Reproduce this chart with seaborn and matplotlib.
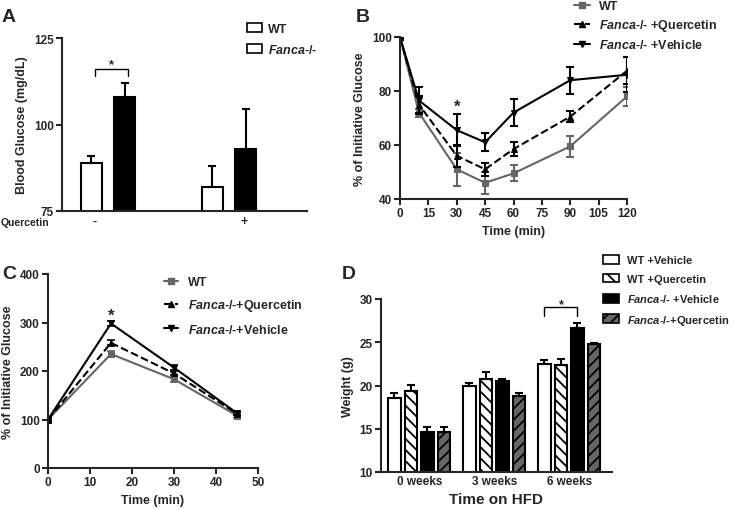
import matplotlib
matplotlib.use("Agg")
import matplotlib.pyplot as plt
from matplotlib.lines import Line2D
from matplotlib.patches import Patch
import seaborn as sns
import pandas as pd

# ---- data ----
# A: fasting blood glucose
a_quercetin = ["-", "+"]
a_genotypes = ["WT", "Fanca-/-"]
a_wt = [89, 82]
a_wt_err = [2, 6]
a_fanca = [108, 93]
a_fanca_err = [4, 11.5]

# B: insulin tolerance
b_time = [0, 10, 30, 45, 60, 90, 120]
b_wt = [100, 72, 51, 46, 49.5, 59.5, 78]
b_wt_err = [0.5, 1.5, 6, 4, 3, 4, 3.5]
b_q = [100, 75, 56, 51, 58.5, 70.5, 87.5]
b_q_err = [0.5, 3, 4, 2.5, 2.5, 2, 5]
b_v = [100, 76.5, 65.5, 61, 72, 84, 86]
b_v_err = [0.5, 5, 6, 3.3, 5, 5, 6.5]

# C: glucose tolerance
c_time = [0, 15, 30, 45]
c_wt = [100, 235, 183, 108]
c_wt_err = [3, 6, 5, 4]
c_q = [100, 258, 195, 112]
c_q_err = [3, 5, 4, 3]
c_v = [100, 298, 207, 113]
c_v_err = [3, 5, 5, 3]

# D: body weight on HFD
d_weeks = ["0 weeks", "3 weeks", "6 weeks"]
d_groups = ["WT +Vehicle", "WT +Quercetin", "Fanca-/- +Vehicle", "Fanca-/-+Quercetin"]
d_vals = {
    "WT +Vehicle": [18.6, 20.0, 22.5],
    "WT +Quercetin": [19.4, 20.7, 22.4],
    "Fanca-/- +Vehicle": [14.6, 20.5, 26.7],
    "Fanca-/-+Quercetin": [14.6, 18.8, 24.8],
}
d_errs = {
    "WT +Vehicle": [0.5, 0.3, 0.4],
    "WT +Quercetin": [0.7, 0.9, 0.7],
    "Fanca-/- +Vehicle": [0.6, 0.2, 0.5],
    "Fanca-/-+Quercetin": [0.6, 0.3, 0.15],
}

sns.set_style("ticks")
plt.rcParams["font.family"] = ["Liberation Sans", "DejaVu Sans"]
plt.rcParams["font.weight"] = "bold"
plt.rcParams["axes.labelweight"] = "bold"
plt.rcParams["mathtext.fontset"] = "custom"
plt.rcParams["mathtext.it"] = "Liberation Sans:italic"
plt.rcParams["mathtext.rm"] = "Liberation Sans:bold"
plt.rcParams["hatch.linewidth"] = 1.3
plt.rcParams["xtick.labelsize"] = 8.5
plt.rcParams["ytick.labelsize"] = 8.5
plt.rcParams["axes.labelsize"] = 9

W, H = 734, 510
fig = plt.figure(figsize=(W / 100, H / 100), dpi=100)


def px_axes(l, t, r, b):
    return fig.add_axes([l / W, 1 - b / H, (r - l) / W, (b - t) / H])


def style_ax(ax):
    for s in ["top", "right"]:
        ax.spines[s].set_visible(False)
    for s in ["left", "bottom"]:
        ax.spines[s].set_linewidth(1.5)
    ax.tick_params(width=1.5, length=4, direction="out", pad=2)


def ital(label):
    return label.replace("Fanca", r"$\mathit{Fanca}$")


GREY = "#666666"

# ---------------- A ----------------
ax = px_axes(62, 39, 307, 212)
dfa = pd.DataFrame({
    "quercetin": a_quercetin * 2,
    "genotype": ["WT"] * 2 + ["Fanca-/-"] * 2,
    "glucose": a_wt + a_fanca,
})
sns.barplot(data=dfa, x="quercetin", y="glucose", hue="genotype", order=a_quercetin,
            hue_order=a_genotypes, palette={"WT": "white", "Fanca-/-": "black"},
            edgecolor="black", linewidth=1.5, width=0.55, gap=0.35,
            errorbar=None, legend=False, ax=ax)
for cont, errs in zip(ax.containers, [a_wt_err, a_fanca_err]):
    for bar, e in zip(cont, errs):
        xc = bar.get_x() + bar.get_width() / 2
        ax.errorbar(xc, bar.get_height(), yerr=[[0], [e]], color="black",
                    capsize=3, elinewidth=1.5, capthick=1.5)
ax.set_ylim(75, 125)
ax.set_yticks([75, 100, 125])
ax.set_xlim(-0.38, 1.645)
ax.set_xticks([])
ax.set_xlabel("")
ax.set_ylabel("Blood Glucose (mg/dL)")
style_ax(ax)
b0 = ax.containers[0][0]
b1 = ax.containers[1][0]
x0 = b0.get_x() + b0.get_width() / 2 + 0.03
x1 = b1.get_x() + b1.get_width() / 2 + 0.03
ax.plot([x0, x0, x1, x1], [114, 116, 116, 114], color="black", lw=1)
ax.text((x0 + x1) / 2, 115.6, "*", ha="center", va="bottom", fontsize=9)
fig.text(1 / W, 1 - 223 / H, "Quercetin", fontsize=7.5, fontweight="bold", va="center")
fig.text(95 / W, 1 - 222 / H, "-", fontsize=9, fontweight="bold", va="center", ha="center")
fig.text(244 / W, 1 - 222 / H, "+", fontsize=9, fontweight="bold", va="center", ha="center")
hA = [Patch(facecolor="white", edgecolor="black", linewidth=1.2) for _ in a_genotypes]
fig.legend(hA, ["WT", ital("Fanca-/-")], loc="upper left",
           bbox_to_anchor=(247 / W, 1 - 24 / H), frameon=False, borderpad=0,
           borderaxespad=0, handlelength=1.2, handleheight=0.7, handletextpad=0.5,
           labelspacing=0.6, prop={"size": 9, "weight": "bold"})

# ---------------- B ----------------
ax = px_axes(400, 38, 627, 200)
series_b = [
    ("WT", b_wt, b_wt_err, GREY, "s", "-"),
    ("Fanca-/- +Quercetin", b_q, b_q_err, "black", "^", "--"),
    ("Fanca-/- +Vehicle", b_v, b_v_err, "black", "v", "-"),
]
for name, vals, errs, col, mk, ls in series_b:
    sns.lineplot(x=b_time, y=vals, color=col, marker=mk, linestyle=ls, lw=1.5,
                 markersize=5, markeredgecolor=col, ax=ax)
    ax.errorbar(b_time, vals, yerr=errs, fmt="none", ecolor=col, capsize=3,
                elinewidth=1.5, capthick=1.5)
ax.set_xlim(0, 120)
ax.set_xticks(range(0, 121, 15))
ax.set_ylim(40, 100)
ax.set_yticks([40, 60, 80, 100])
ax.set_xlabel("Time (min)")
ax.set_ylabel("% of Initiative Glucose")
ax.yaxis.set_label_coords(-34 / 227, 0.5)
style_ax(ax)
for sp in ax.spines.values():
    sp.set_clip_on(False)
ax.text(30, 71.5, "*", ha="center", va="bottom", fontsize=12)
hB = [Line2D([], [], color=c, marker=m, linestyle=l, lw=1.5, markersize=5)
      for _, _, _, c, m, l in series_b]
fig.legend(hB, [ital(s[0]) for s in series_b], loc="upper left",
           bbox_to_anchor=(574 / W, 1 - 1 / H), frameon=False, borderpad=0,
           borderaxespad=0, handlelength=1.3, handletextpad=0.7,
           labelspacing=0.4, prop={"size": 9, "weight": "bold"})

# ---------------- C ----------------
ax = px_axes(48, 275, 258, 469)
series_c = [
    ("WT", c_wt, c_wt_err, GREY, "s", "-"),
    ("Fanca-/-+Quercetin", c_q, c_q_err, "black", "^", "--"),
    ("Fanca-/-+Vehicle", c_v, c_v_err, "black", "v", "-"),
]
for name, vals, errs, col, mk, ls in series_c:
    sns.lineplot(x=c_time, y=vals, color=col, marker=mk, linestyle=ls, lw=1.5,
                 markersize=5, markeredgecolor=col, ax=ax)
    ax.errorbar(c_time, vals, yerr=errs, fmt="none", ecolor=col, capsize=3,
                elinewidth=1.2, capthick=1.2)
ax.set_xlim(0, 50)
ax.set_xticks(range(0, 51, 10))
ax.set_ylim(0, 400)
ax.set_yticks(range(0, 401, 100))
ax.set_xlabel("Time (min)")
ax.set_ylabel("% of Initiative Glucose")
style_ax(ax)
for sp in ax.spines.values():
    sp.set_clip_on(False)
ax.text(15, 300, "*", ha="center", va="bottom", fontsize=12)
hC = [Line2D([], [], color=c, marker=m, linestyle=l, lw=1.5, markersize=5)
      for _, _, _, c, m, l in series_c]
fig.legend(hC, [ital(s[0]) for s in series_c], loc="upper left",
           bbox_to_anchor=(164 / W, 1 - 277 / H), frameon=False, borderpad=0,
           borderaxespad=0, handlelength=1.1, handletextpad=0.8,
           labelspacing=0.75, prop={"size": 9, "weight": "bold"})

# ---------------- D ----------------
ax = px_axes(381, 300, 612, 473)
dfd = pd.DataFrame({
    "weeks": d_weeks * len(d_groups),
    "group": [g for g in d_groups for _ in d_weeks],
    "weight": [v for g in d_groups for v in d_vals[g]],
})
d_colors = {"WT +Vehicle": "white", "WT +Quercetin": "white",
            "Fanca-/- +Vehicle": "black", "Fanca-/-+Quercetin": "#666666"}
d_hatch = {"WT +Vehicle": "", "WT +Quercetin": "\\\\\\",
           "Fanca-/- +Vehicle": "", "Fanca-/-+Quercetin": "///"}
sns.barplot(data=dfd, x="weeks", y="weight", hue="group", order=d_weeks,
            hue_order=d_groups, palette=d_colors, edgecolor="black", linewidth=1.5,
            width=0.88, gap=0.27, errorbar=None, legend=False, ax=ax)
for cont, g in zip(ax.containers, d_groups):
    for bar, e in zip(cont, d_errs[g]):
        bar.set_hatch(d_hatch[g])
        xc = bar.get_x() + bar.get_width() / 2
        ax.errorbar(xc, bar.get_height(), yerr=[[0], [e]], color="black",
                    capsize=3, elinewidth=1.5, capthick=1.5)
ax.set_ylim(10, 30)
ax.set_yticks([10, 15, 20, 25, 30])
ax.set_xlim(-0.51, 2.57)
ax.set_xlabel("Time on HFD", fontsize=11)
ax.set_ylabel("Weight (g)")
style_ax(ax)
ax.tick_params(axis="x", length=0)
bw = ax.containers[0][2]
bf = ax.containers[2][2]
xw = bw.get_x() + bw.get_width() / 2
xf = bf.get_x() + bf.get_width() / 2
ax.plot([xw, xw, xf, xf], [28.0, 29.1, 29.1, 28.0], color="black", lw=1)
ax.text((xw + xf) / 2, 28.7, "*", ha="center", va="bottom", fontsize=9)
hD = [Patch(facecolor=d_colors[g], edgecolor="black", hatch=d_hatch[g], linewidth=1.2)
      for g in d_groups]
fig.legend(hD, [ital(g) for g in d_groups], loc="upper left",
           bbox_to_anchor=(603 / W, 1 - 256 / H), frameon=False, borderpad=0,
           borderaxespad=0, handlelength=1.45, handleheight=0.85, handletextpad=0.7,
           labelspacing=0.75, prop={"size": 8, "weight": "bold"})

# panel letters
for letter, x, y in [("A", 2, 18), ("B", 356, 18), ("C", 2, 275), ("D", 342, 275)]:
    fig.text(x / W, 1 - y / H, letter, fontsize=14, fontweight="bold", va="center")

fig.savefig("out.png", dpi=100)
